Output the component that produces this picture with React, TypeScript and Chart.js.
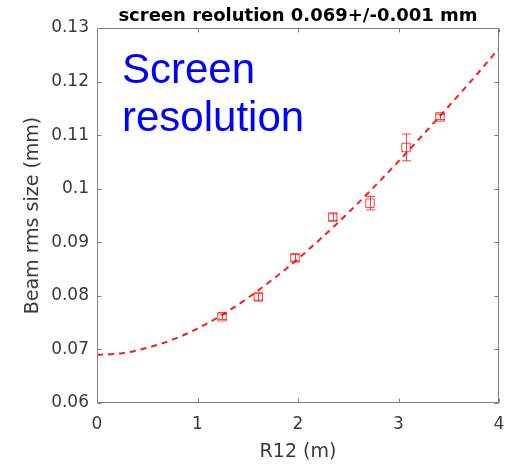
import React, { useEffect, useRef } from 'react';
import { Chart, registerables } from 'chart.js';

Chart.register(...registerables);

// Measured beam rms size vs R12, with error bars
const measX = [1.244, 1.605, 1.97, 2.345, 2.716, 3.075, 3.413];
const measY = [0.0761, 0.0798, 0.0871, 0.0947, 0.0973, 0.1077, 0.1134];
const measErr = [0.0005, 0.0006, 0.0006, 0.0006, 0.00125, 0.0025, 0.0005];

// Fit curve
const fitX = [0, 0.25, 0.5, 0.75, 1, 1.25, 1.5, 1.75, 2, 2.25, 2.5, 2.75, 3, 3.25, 3.5, 3.75, 4];
const fitY = [0.069, 0.0693, 0.0703, 0.0718, 0.0739, 0.0765, 0.0796, 0.0831, 0.0869, 0.0911, 0.0955, 0.1002, 0.1051, 0.1102, 0.1154, 0.1207, 0.1262];

const xTicks = [0, 1, 2, 3, 4];
const xTickLabels = ['0', '1', '2', '3', '4'];
const yTicks = [0.06, 0.07, 0.08, 0.09, 0.1, 0.11, 0.12, 0.13];
const yTickLabels = ['0.06', '0.07', '0.08', '0.09', '0.1', '0.11', '0.12', '0.13'];

const titleText = 'screen reolution 0.069+/-0.001 mm';
const xTitle = 'R12 (m)';
const yTitle = 'Beam rms size (mm)';
const noteLines = ['Screen', 'resolution'];

const RED = 'rgba(255,0,0,0.75)';
const AXIS_FONT = '"DejaVu Sans", sans-serif';
const TEXT_COLOR = '#3a3a3a';

const decorPlugin = {
  id: 'decor',
  afterDatasetsDraw(chart: any) {
    const { ctx, scales } = chart;
    const xs = scales.x;
    const ys = scales.y;
    ctx.save();
    // error bars
    ctx.strokeStyle = RED;
    ctx.lineWidth = 1;
    for (let i = 0; i < measX.length; i++) {
      const px = Math.round(xs.getPixelForValue(measX[i])) + 0.5;
      const y1 = ys.getPixelForValue(measY[i] - measErr[i]);
      const y2 = ys.getPixelForValue(measY[i] + measErr[i]);
      ctx.beginPath();
      ctx.moveTo(px, y1);
      ctx.lineTo(px, y2);
      ctx.moveTo(px - 4.5, y1);
      ctx.lineTo(px + 4.5, y1);
      ctx.moveTo(px - 4.5, y2);
      ctx.lineTo(px + 4.5, y2);
      ctx.stroke();
    }
    ctx.restore();
  },
  afterDraw(chart: any) {
    const { ctx, chartArea: a, scales } = chart;
    const xs = scales.x;
    const ys = scales.y;
    ctx.save();
    // box
    ctx.strokeStyle = '#808080';
    ctx.lineWidth = 1;
    const L = Math.round(a.left) + 0.5;
    const R = Math.round(a.right) - 0.5;
    const T = Math.round(a.top) + 0.5;
    const B = Math.round(a.bottom) - 0.5;
    ctx.strokeRect(L, T, R - L, B - T);
    // inward ticks
    ctx.beginPath();
    for (const v of xTicks) {
      const px = Math.round(xs.getPixelForValue(v)) + 0.5;
      ctx.moveTo(px, B);
      ctx.lineTo(px, B - 4);
      ctx.moveTo(px, T);
      ctx.lineTo(px, T + 4);
    }
    for (const v of yTicks) {
      const py = Math.round(ys.getPixelForValue(v)) + 0.5;
      ctx.moveTo(L, py);
      ctx.lineTo(L + 4, py);
      ctx.moveTo(R, py);
      ctx.lineTo(R - 4, py);
    }
    ctx.stroke();
    // title
    ctx.fillStyle = '#000000';
    ctx.font = 'bold 18px ' + AXIS_FONT;
    ctx.textAlign = 'center';
    ctx.textBaseline = 'alphabetic';
    ctx.fillText(titleText, (a.left + a.right) / 2, 21);
    // annotation
    ctx.fillStyle = '#0000ff';
    ctx.font = '42px "Liberation Sans", Arial, sans-serif';
    ctx.textAlign = 'left';
    ctx.fillText(noteLines[0], a.left + 25, 83);
    ctx.fillText(noteLines[1], a.left + 25, 130.5);
    ctx.restore();
  },
};

export default function App() {
  const ref = useRef<HTMLCanvasElement>(null);
  useEffect(() => {
    if (!ref.current) return;
    const chart = new Chart(ref.current, {
      type: 'scatter',
      data: {
        datasets: [
          {
            type: 'line',
            label: 'fit',
            data: fitX.map((x, i) => ({ x, y: fitY[i] })),
            borderColor: 'rgba(255,0,0,0.9)',
            borderWidth: 2,
            borderDash: [6, 5],
            pointRadius: 0,
            fill: false,
            cubicInterpolationMode: 'monotone',
          } as any,
          {
            type: 'scatter',
            label: 'data',
            data: measX.map((x, i) => ({ x, y: measY[i] })),
            pointStyle: 'rect',
            pointRadius: 6,
            borderColor: RED,
            backgroundColor: 'rgba(0,0,0,0)',
            borderWidth: 1,
          } as any,
        ],
      },
      options: {
        animation: false,
        responsive: false,
        maintainAspectRatio: false,
        layout: { padding: { top: 28, right: 8, left: 0, bottom: 0 } },
        plugins: { legend: { display: false }, tooltip: { enabled: false }, title: { display: false } },
        scales: {
          x: {
            type: 'linear',
            min: 0,
            max: 4,
            grid: { display: false, drawTicks: false },
            border: { display: false },
            afterBuildTicks: (s: any) => {
              s.ticks = xTicks.map((v) => ({ value: v }));
            },
            afterFit: (s: any) => {
              s.height = 63;
              s.paddingLeft = 0;
              s.paddingRight = 0;
            },
            ticks: {
              padding: 11,
              color: TEXT_COLOR,
              font: { family: AXIS_FONT, size: 17 },
              maxRotation: 0,
              callback: (v: any) => {
                const i = xTicks.indexOf(Number(v));
                return i >= 0 ? xTickLabels[i] : '';
              },
            },
            title: {
              display: true,
              text: xTitle,
              color: TEXT_COLOR,
              font: { family: AXIS_FONT, size: 19 },
              padding: { top: 0, bottom: 2.6 },
            },
          },
          y: {
            type: 'linear',
            min: 0.06,
            max: 0.13,
            grid: { display: false, drawTicks: false },
            border: { display: false },
            afterBuildTicks: (s: any) => {
              s.ticks = yTicks.map((v) => ({ value: v }));
            },
            afterFit: (s: any) => {
              s.width = 97;
              s.paddingTop = 0;
              s.paddingBottom = 0;
            },
            ticks: {
              padding: 8,
              color: TEXT_COLOR,
              font: { family: AXIS_FONT, size: 17 },
              callback: (v: any) => {
                const i = yTicks.findIndex((t) => Math.abs(t - Number(v)) < 1e-9);
                return i >= 0 ? yTickLabels[i] : '';
              },
            },
            title: {
              display: true,
              text: yTitle,
              color: TEXT_COLOR,
              font: { family: AXIS_FONT, size: 19 },
              padding: { top: 21.6, bottom: 0 },
            },
          },
        },
      } as any,
      plugins: [decorPlugin],
    });
    return () => chart.destroy();
  }, []);
  return (
    <div style={{ position: 'fixed', left: 0, top: 0, width: 507, height: 466, background: '#ffffff' }}>
      <canvas ref={ref} width={507} height={466} style={{ display: 'block' }} />
    </div>
  );
}
